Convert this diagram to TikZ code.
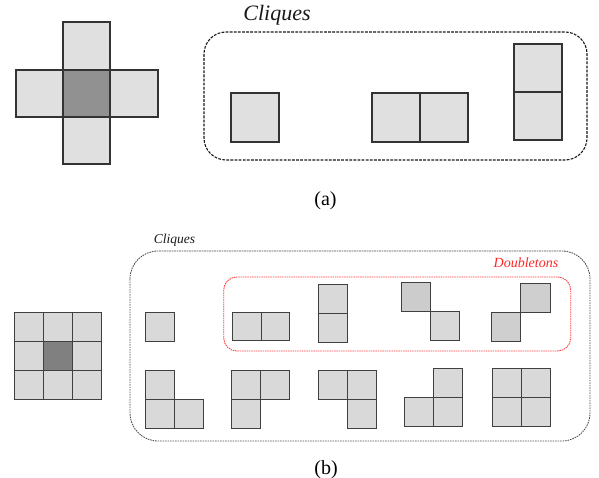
\documentclass[tikz,border=0pt]{standalone}
\usepackage{fontspec}
\setmainfont{Liberation Serif}[ItalicFont={Liberation Serif Italic}]
\begin{document}
\begin{tikzpicture}[x=1pt,y=-1pt,
  bigcell/.style={draw=black!80,line width=1.3pt,fill=#1},
  bigcell/.default={black!12},
  smallcell/.style={draw=black!75,line width=1pt,fill=#1},
  smallcell/.default={black!15},
  groupbox/.style={draw=black!90,rounded corners=22pt,line width=1.1pt,dash pattern=on 2.8pt off 1.3pt},
  finebox/.style={draw=black!70,rounded corners=28pt,line width=0.85pt,dash pattern=on 1.6pt off 0.9pt},
  redbox/.style={draw=red!75,rounded corners=13pt,line width=0.9pt,dash pattern=on 1.5pt off 0.8pt},
  label/.style={inner sep=0pt,font=\fontsize{20}{24}\selectfont}]
\useasboundingbox (0,0) rectangle (599,478);

% ---------- (a): first-order neighbourhood ----------
\draw[bigcell] (63,22) rectangle (110,70);
\draw[bigcell] (16,70) rectangle (63,117);
\draw[bigcell] (110,70) rectangle (158,117);
\draw[bigcell] (63,117) rectangle (110,164);
\draw[bigcell=black!43] (63,70) rectangle (110,117);

% cliques of the first-order system
\draw[groupbox] (204,32) rectangle (587,160);
\node[inner sep=0pt,text=black!90,font=\itshape\fontsize{22}{26}\selectfont] (cliqA) at (277,15) {Cliques};
\draw[bigcell] (231,93) rectangle (279,142);
\draw[bigcell] (372,93) rectangle (420,142);
\draw[bigcell] (420,93) rectangle (468,142);
\draw[bigcell] (514,44) rectangle (562,92);
\draw[bigcell] (514,92) rectangle (562,140);
\node[label] (capA) at (325.5,201) {(a)};

% ---------- (b): second-order neighbourhood ----------
\foreach \i in {0,1,2}
  \foreach \j in {0,1,2}
    \draw[smallcell] (14.7+29*\i,312.3+29*\j) rectangle ++(29,29);
\draw[smallcell=black!50] (43.7,341.3) rectangle ++(29,29);

% cliques of the second-order system
\draw[finebox] (130,251) rectangle (590,441);
\node[inner sep=0pt,text=black!90,font=\itshape\fontsize{13.5}{16}\selectfont] (cliqB) at (174.5,240.5) {Cliques};
\draw[redbox] (223.7,277) rectangle (570.7,351);
\node[inner sep=0pt,text=red!85,font=\itshape\fontsize{14}{17}\selectfont] (doub) at (526,262.5) {Doubletons};

% single site
\draw[smallcell] (145.7,312) rectangle ++(29,29);
% doubletons
\draw[smallcell] (232.7,312) rectangle ++(28.6,28.7);
\draw[smallcell] (261.3,312) rectangle ++(28.6,28.7);
\draw[smallcell] (318,284.7) rectangle ++(29.5,29);
\draw[smallcell] (318,313.7) rectangle ++(29.5,29);
\draw[smallcell=black!20] (401.7,282.3) rectangle ++(29,29);
\draw[smallcell] (430.7,311.3) rectangle ++(29,29);
\draw[smallcell=black!19] (520.7,283.3) rectangle ++(29.3,29);
\draw[smallcell=black!19] (491.7,312.3) rectangle ++(29,29);

% triplets
\draw[smallcell] (145.7,370.7) rectangle ++(29,29);
\draw[smallcell] (145.7,399.7) rectangle ++(29,29);
\draw[smallcell] (174.7,399.7) rectangle ++(29,29);

\draw[smallcell] (231.7,370.7) rectangle ++(29,29);
\draw[smallcell] (260.7,370.7) rectangle ++(29,29);
\draw[smallcell] (231.7,399.7) rectangle ++(29,29);

\draw[smallcell] (318,370.7) rectangle ++(29,29);
\draw[smallcell] (347,370.7) rectangle ++(29.3,29);
\draw[smallcell] (347,399.7) rectangle ++(29.3,29);

\draw[smallcell] (433.7,368.7) rectangle ++(29,29);
\draw[smallcell] (404.7,397.7) rectangle ++(29,29);
\draw[smallcell] (433.7,397.7) rectangle ++(29,29);

% quadruplet
\foreach \i in {0,1}
  \foreach \j in {0,1}
    \draw[smallcell] (492.3+29*\i,368.7+29*\j) rectangle ++(29,29);

\node[label] (capB) at (326,469.5) {(b)};
\end{tikzpicture}
\end{document}
